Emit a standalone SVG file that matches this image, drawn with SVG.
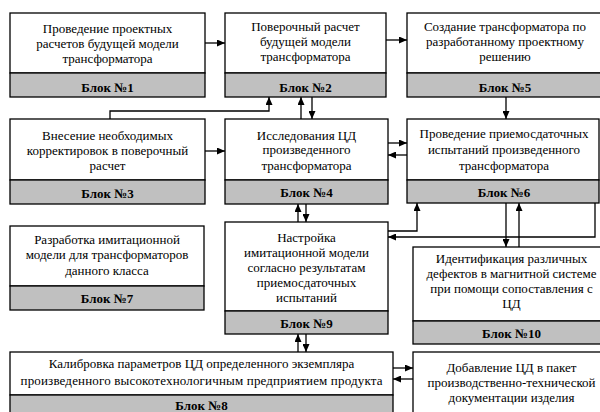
<svg xmlns="http://www.w3.org/2000/svg" width="600" height="412" viewBox="0 0 600 412">
<defs>
<style>
.box{fill:#fff;stroke:#000;stroke-width:1.3}
.lab{fill:#c0c0c0;stroke:#000;stroke-width:1.3}
.t{font-family:"Liberation Serif","Times New Roman",serif;font-size:13px;text-anchor:middle;fill:#000}
.b{font-weight:bold}
.c{fill:none;stroke:#000;stroke-width:1.3;marker-end:url(#ah)}
</style>
<marker id="ah" markerUnits="userSpaceOnUse" markerWidth="8" markerHeight="7" refX="8" refY="3.5" orient="auto">
<path d="M0,0 L8,3.5 L0,7 z" fill="#000"/>
</marker>
</defs>
<rect width="600" height="412" fill="#fff"/>
<g id="connectors">
<path class="c" d="M205,43 H225"/>
<path class="c" d="M386,40 H407"/>
<path class="c" d="M205,151 H225"/>
<path class="c" d="M110,119 V111 H269 V97"/>
<path class="c" d="M301,119 V97"/>
<path class="c" d="M312,97 V119"/>
<path class="c" d="M388,143 H407"/>
<path class="c" d="M407,155 H388"/>
<path class="c" d="M506,97 V119"/>
<path class="c" d="M298,222 V204"/>
<path class="c" d="M306,204 V222"/>
<path class="c" d="M388,231 H417 V203"/>
<path class="c" d="M595,203 V237 H388"/>
<path class="c" d="M506,203 V247"/>
<path class="c" d="M519,247 V203"/>
<path class="c" d="M298,352 V334"/>
<path class="c" d="M306,334 V352"/>
<path class="c" d="M393,368 H413"/>
<path class="c" d="M413,379 H393"/>
</g>
<g id="block1">
<rect class="box" x="10" y="13" width="195" height="60"/>
<rect class="lab" x="10" y="73" width="195" height="24"/>
<text class="t" x="107.5" y="32.5">Проведение проектных</text>
<text class="t" x="107.5" y="47.5">расчетов будущей модели</text>
<text class="t" x="107.5" y="62.5">трансформатора</text>
<text class="t b" x="107.5" y="91.5">Блок №1</text>
</g>
<g id="block2">
<rect class="box" x="225" y="13" width="161" height="60"/>
<rect class="lab" x="225" y="73" width="161" height="24"/>
<text class="t" x="305.5" y="30.5">Поверочный расчет</text>
<text class="t" x="305.5" y="46">будущей модели</text>
<text class="t" x="305.5" y="61">трансформатора</text>
<text class="t b" x="305.5" y="91.5">Блок №2</text>
</g>
<g id="block5">
<rect class="box" x="407" y="13" width="196" height="60"/>
<rect class="lab" x="407" y="73" width="196" height="24"/>
<text class="t" x="505" y="30.5">Создание трансформатора по</text>
<text class="t" x="505" y="46">разработанному проектному</text>
<text class="t" x="505" y="61">решению</text>
<text class="t b" x="505" y="91.5">Блок №5</text>
</g>
<g id="block3">
<rect class="box" x="10" y="119" width="195" height="61"/>
<rect class="lab" x="10" y="180" width="195" height="24"/>
<text class="t" x="107.5" y="139.5">Внесение необходимых</text>
<text class="t" x="107.5" y="154.5">корректировок в поверочный</text>
<text class="t" x="107.5" y="169.5">расчет</text>
<text class="t b" x="107.5" y="197.5">Блок №3</text>
</g>
<g id="block4">
<rect class="box" x="225" y="119" width="163" height="61"/>
<rect class="lab" x="225" y="180" width="163" height="24"/>
<text class="t" x="306.5" y="139.5">Исследования ЦД</text>
<text class="t" x="306.5" y="154">произведенного</text>
<text class="t" x="306.5" y="169.5">трансформатора</text>
<text class="t b" x="306.5" y="196.5">Блок №4</text>
</g>
<g id="block6">
<rect class="box" x="407" y="119" width="192" height="61"/>
<rect class="lab" x="407" y="180" width="192" height="23"/>
<text class="t" x="504" y="137.5">Проведение приемосдаточных</text>
<text class="t" x="504" y="153.5">испытаний произведенного</text>
<text class="t" x="504" y="169.5">трансформатора</text>
<text class="t b" x="504" y="196.5">Блок №6</text>
</g>
<g id="block7">
<rect class="box" x="10" y="226" width="194" height="60"/>
<rect class="lab" x="10" y="286" width="194" height="24"/>
<text class="t" x="107" y="243.5">Разработка имитационной</text>
<text class="t" x="107" y="259">модели для трансформаторов</text>
<text class="t" x="107" y="274.5">данного класса</text>
<text class="t b" x="107" y="302.5">Блок №7</text>
</g>
<g id="block9">
<rect class="box" x="225" y="222" width="163" height="89"/>
<rect class="lab" x="225" y="311" width="163" height="23"/>
<text class="t" x="306.5" y="241.5">Настройка</text>
<text class="t" x="306.5" y="256.5">имитационной модели</text>
<text class="t" x="306.5" y="271.5">согласно результатам</text>
<text class="t" x="306.5" y="286.5">приемосдаточных</text>
<text class="t" x="306.5" y="301.5">испытаний</text>
<text class="t b" x="306.5" y="327.5">Блок №9</text>
</g>
<g id="block10">
<rect class="box" x="413" y="247" width="197" height="74"/>
<rect class="lab" x="413" y="321" width="197" height="23"/>
<text class="t" x="511.5" y="262.5">Идентификация различных</text>
<text class="t" x="511.5" y="277.5">дефектов в магнитной системе</text>
<text class="t" x="511.5" y="292.5">при помощи сопоставления с</text>
<text class="t" x="511.5" y="308">ЦД</text>
<text class="t b" x="511.5" y="337.5">Блок №10</text>
</g>
<g id="block8">
<rect class="box" x="10" y="352" width="383" height="43"/>
<rect class="lab" x="10" y="395" width="383" height="25"/>
<text class="t" x="201.5" y="368">Калибровка параметров ЦД определенного экземпляра</text>
<text class="t" x="201.5" y="385" textLength="362" lengthAdjust="spacing">произведенного высокотехнологичным предприятием продукта</text>
<text class="t b" x="201.5" y="410">Блок №8</text>
</g>
<g id="block11">
<rect class="box" x="413" y="352" width="197" height="70"/>
<text class="t" x="511.5" y="371.5">Добавление ЦД в пакет</text>
<text class="t" x="511.5" y="386.5">производственно-технической</text>
<text class="t" x="511.5" y="401.5">документации изделия</text>
</g>
</svg>
